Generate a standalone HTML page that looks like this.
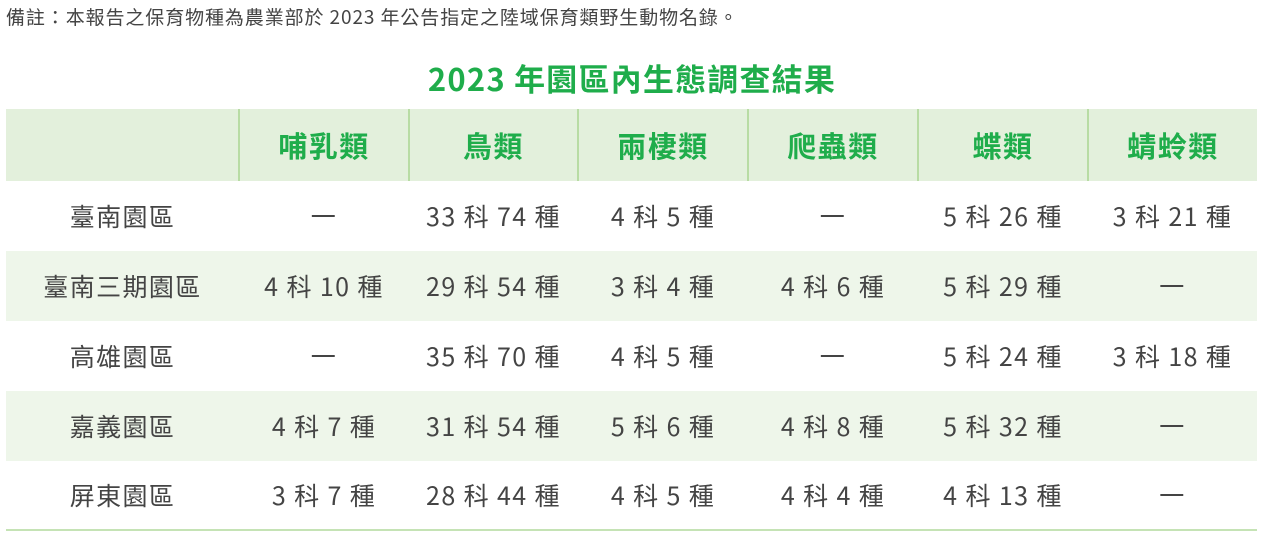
<!DOCTYPE html>
<html><head><meta charset="utf-8"><style>
body{margin:0;width:1264px;height:541px;background:#fff;font-family:"Noto Sans CJK TC","Liberation Sans",sans-serif;overflow:hidden;position:relative}
.note{position:absolute;left:6px;top:3px;font-size:19px;letter-spacing:0.9px;line-height:28px;color:#444;white-space:nowrap}
.title{position:absolute;left:0;width:1264px;top:55px;line-height:46px;text-align:center;font-size:31px;letter-spacing:1.2px;font-weight:bold;color:#1fad4b}
table{position:absolute;left:6px;top:109px;width:1251px;border-collapse:collapse;table-layout:fixed}
th{height:72px;background:#e3f0dc;color:#1fad4b;font-size:29px;letter-spacing:1.5px;font-weight:bold;border-left:2px solid #b8dca4;padding:0}
th:first-child{border-left:none}
td{height:70px;text-align:center;font-size:25px;letter-spacing:1.4px;color:#444;padding:0;line-height:30px}
tr.alt td{background:#eef6ea}
tbody tr:last-child td{border-bottom:2px solid #c5e3b5;height:68px}
</style></head><body>
<div class="note">備註：本報告之保育物種為農業部於 2023 年公告指定之陸域保育類野生動物名錄。</div>
<div class="title">2023 年園區內生態調查結果</div>
<table>
<colgroup><col style="width:233px"><col style="width:170px"><col style="width:169px"><col style="width:170px"><col style="width:170px"><col style="width:170px"><col style="width:169px"></colgroup>
<thead><tr><th></th><th>哺乳類</th><th>鳥類</th><th>兩棲類</th><th>爬蟲類</th><th>蝶類</th><th>蜻蛉類</th></tr></thead>
<tbody>
<tr><td>臺南園區</td><td>一</td><td>33 科 74 種</td><td>4 科 5 種</td><td>一</td><td>5 科 26 種</td><td>3 科 21 種</td></tr>
<tr class="alt"><td>臺南三期園區</td><td>4 科 10 種</td><td>29 科 54 種</td><td>3 科 4 種</td><td>4 科 6 種</td><td>5 科 29 種</td><td>一</td></tr>
<tr><td>高雄園區</td><td>一</td><td>35 科 70 種</td><td>4 科 5 種</td><td>一</td><td>5 科 24 種</td><td>3 科 18 種</td></tr>
<tr class="alt"><td>嘉義園區</td><td>4 科 7 種</td><td>31 科 54 種</td><td>5 科 6 種</td><td>4 科 8 種</td><td>5 科 32 種</td><td>一</td></tr>
<tr><td>屏東園區</td><td>3 科 7 種</td><td>28 科 44 種</td><td>4 科 5 種</td><td>4 科 4 種</td><td>4 科 13 種</td><td>一</td></tr>
</tbody></table>
</body></html>
